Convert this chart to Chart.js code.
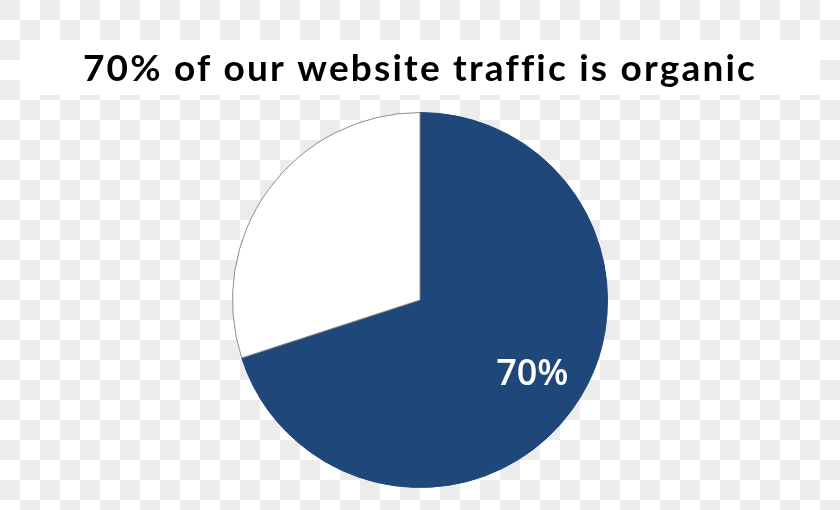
<!DOCTYPE html>
<html>
<head>
<meta charset="utf-8">
<script src="https://cdn.jsdelivr.net/npm/chart.js@4.4.1/dist/chart.umd.min.js"></script>
<style>
  html, body { margin:0; padding:0; }
  body {
    width:840px; height:510px; overflow:hidden;
    background-color:#ffffff;
    background-image:
      linear-gradient(45deg, #ececec 25%, transparent 25%, transparent 75%, #ececec 75%),
      linear-gradient(45deg, #ececec 25%, transparent 25%, transparent 75%, #ececec 75%);
    background-size:40px 40px;
    background-position:20px 0, 0 20px;
  }
  canvas { display:block; }
</style>
</head>
<body>
<canvas id="pie" width="840" height="510"></canvas>
<script>
// chart data
const TITLE = '70% of our website traffic is organic';
const labels = ['Organic', 'Other'];
const values = [70, 30];
const colors = ['#20477a', '#ffffff'];
const borders = ['#20477a', '#8c8c8c'];

// white band + title drawn behind the chart
const titleBand = {
  id: 'titleBand',
  beforeDraw(chart) {
    const ctx = chart.ctx;
    ctx.save();
    ctx.fillStyle = '#ffffff';
    ctx.fillRect(20, 40, 800, 55);
    ctx.fillStyle = '#000000';
    ctx.font = 'bold 37px Lato';
    ctx.letterSpacing = '2.2px';
    ctx.textAlign = 'center';
    ctx.textBaseline = 'alphabetic';
    ctx.fillText(TITLE, 420, 81);
    ctx.restore();
  }
};

// percentage label inside the big slice
const sliceLabel = {
  id: 'sliceLabel',
  afterDatasetsDraw(chart) {
    const ctx = chart.ctx;
    const arc = chart.getDatasetMeta(0).data[0];
    const mid = (arc.startAngle + arc.endAngle) / 2 - 0.04;
    const r = arc.outerRadius * 0.72;
    ctx.save();
    ctx.fillStyle = '#ffffff';
    ctx.font = '600 36px "Open Sans"';
    ctx.textAlign = 'center';
    ctx.textBaseline = 'middle';
    ctx.fillText(values[0] + '%', arc.x + Math.cos(mid) * r, arc.y + Math.sin(mid) * r);
    ctx.restore();
  }
};

new Chart(document.getElementById('pie'), {
  type: 'pie',
  data: {
    labels: labels,
    datasets: [{
      data: values,
      backgroundColor: colors,
      borderColor: borders,
      borderWidth: 1
    }]
  },
  options: {
    responsive: false,
    animation: false,
    devicePixelRatio: 1,
    layout: { padding: { top: 112, bottom: 22 } },
    plugins: {
      legend: { display: false },
      tooltip: { enabled: false },
      title: { display: false }
    }
  },
  plugins: [titleBand, sliceLabel]
});
</script>
</body>
</html>
